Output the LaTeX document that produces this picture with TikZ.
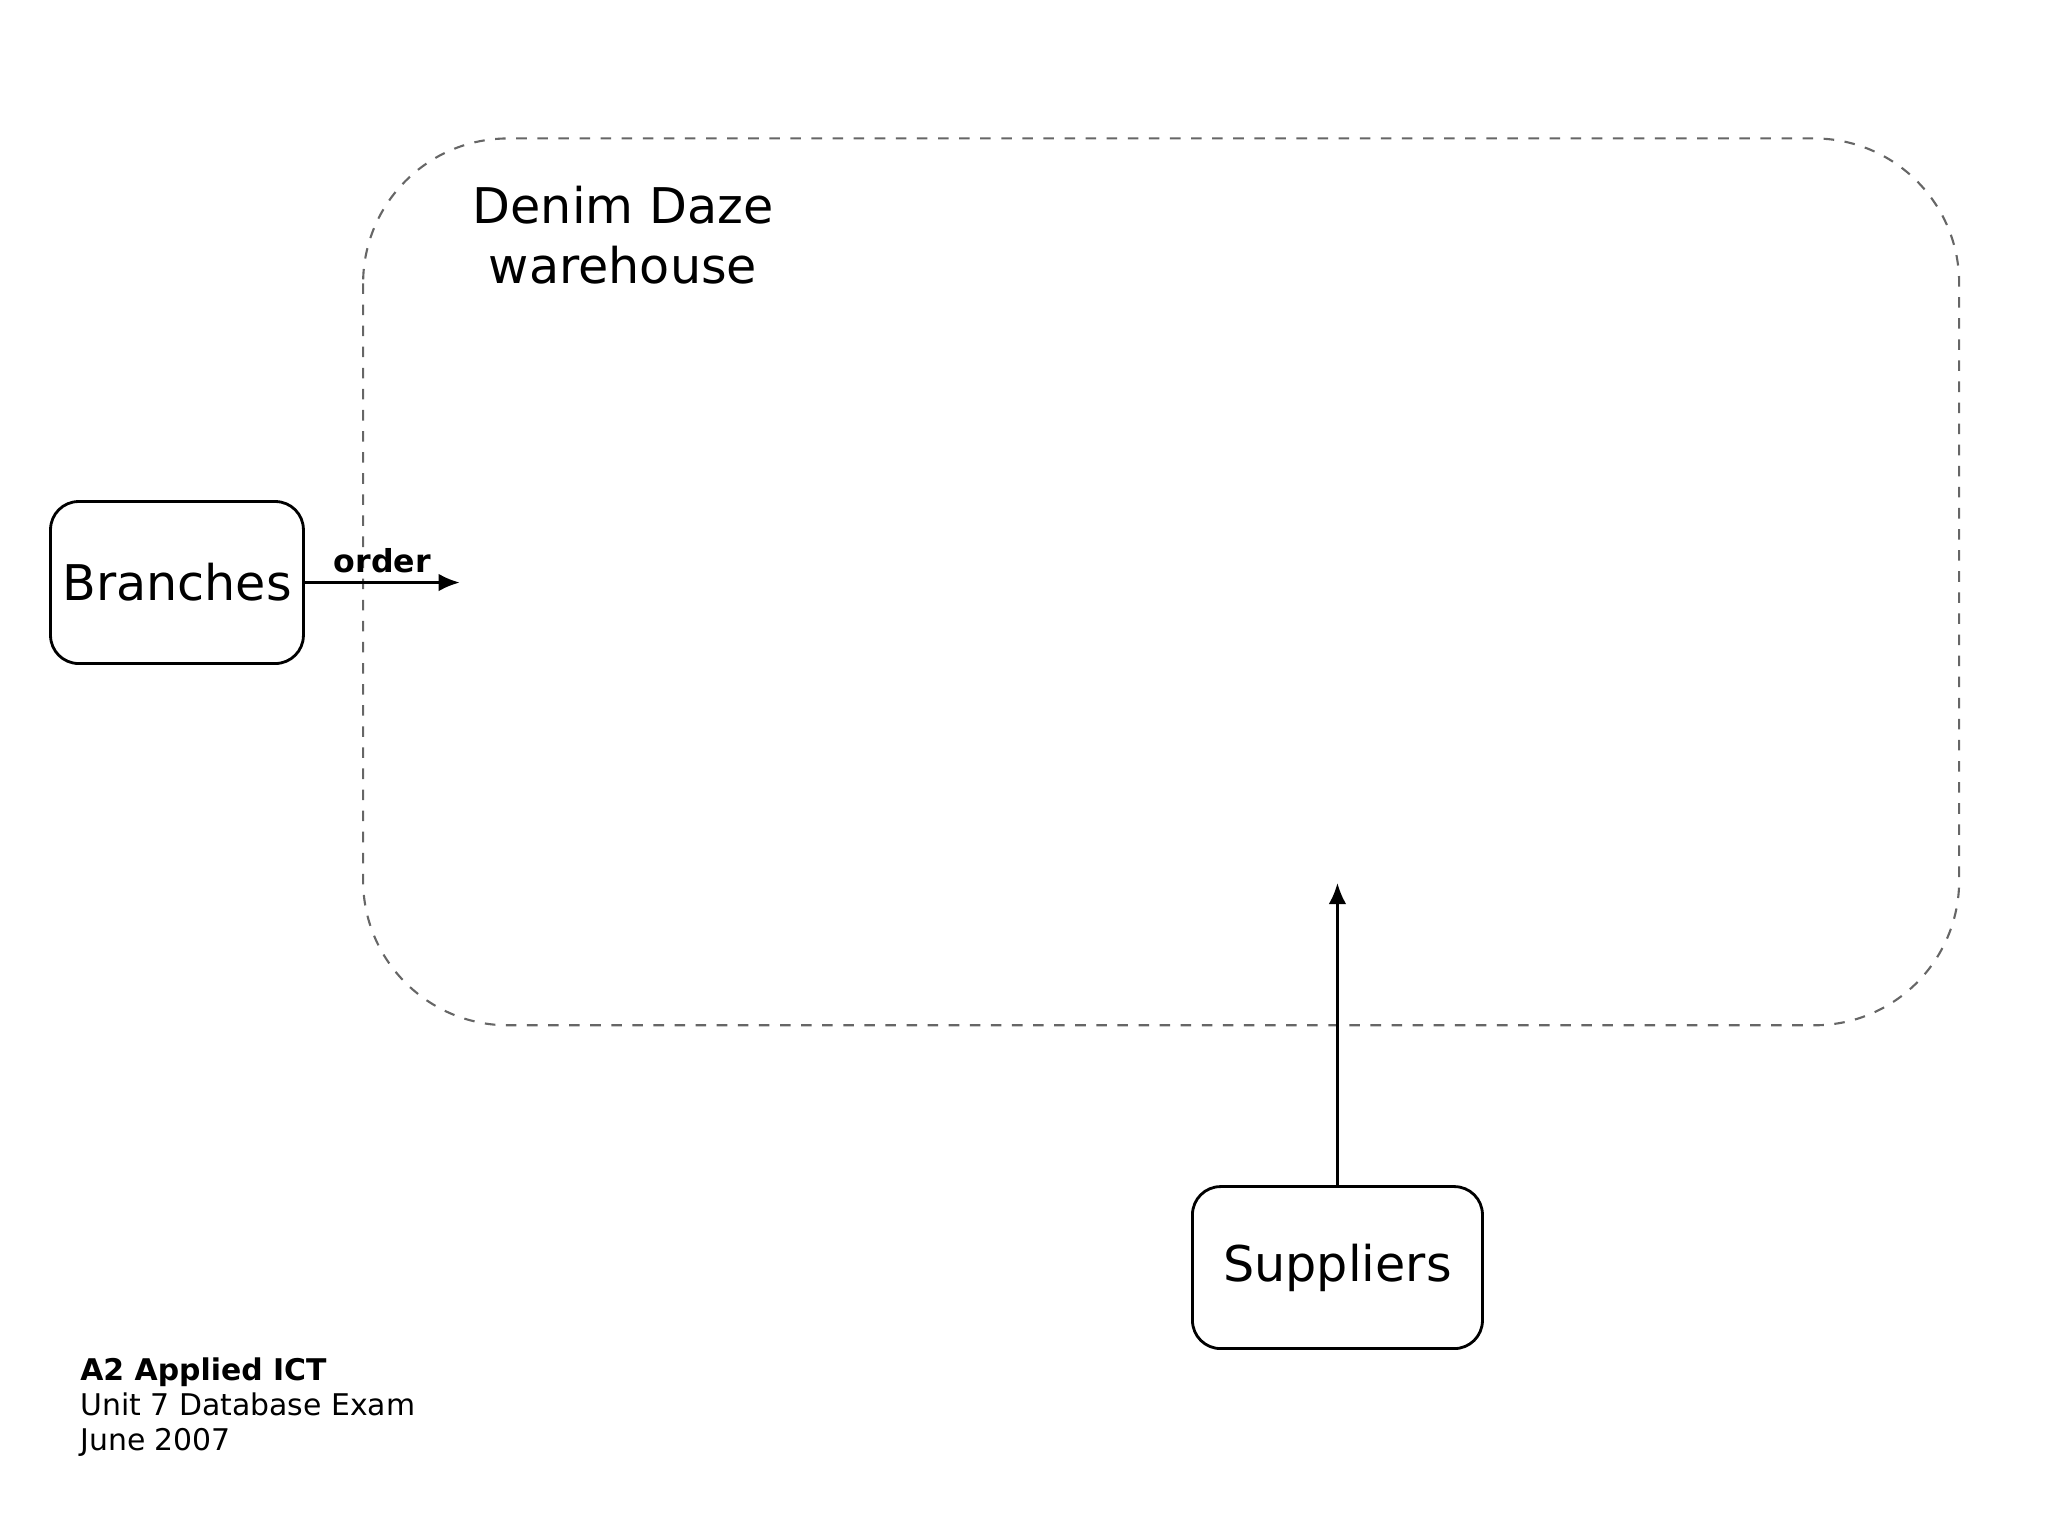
\documentclass[tikz,border=0pt]{standalone}
\usepackage{fontspec}
\setmainfont{DejaVu Sans}
\usetikzlibrary{positioning}
\usetikzlibrary{arrows.meta}
\tikzset{
    entity/.style = {rectangle,draw,rounded corners=8pt,line width=0.8pt,minimum width=2.42cm,minimum height=1.62cm,font=\fontsize{14}{17}\selectfont},
    boundary/.style = {draw=black!60,dashed,line width=0.6pt,rounded corners=1.45cm},
    flow/.style = {-{Latex[length=6pt,width=5pt]},line width=0.8pt}}
\begin{document}
\begin{tikzpicture}[x=0.01306cm,y=-0.01306cm]
    \useasboundingbox (0,0) rectangle (1568,1176);
    \draw[boundary] (278,106) rectangle (1500,785);
    \node[align=center,font=\fontsize{14}{17}\selectfont] (title) at (477,180) {Denim Daze\\warehouse};
    \node[entity] (branches) at (135.5,446) {Branches};
    \node[entity,minimum width=2.9cm] (suppliers) at (1024,970.5) {Suppliers};
    \coordinate (orderend) at (352,446);
    \coordinate (supplyend) at (1024,676);
    \draw[flow] (branches) -- node[above=-1pt,font=\bfseries\fontsize{9}{11}\selectfont] (order) {order} (orderend);
    \draw[flow] (suppliers) -- (supplyend);
    \node[anchor=north west,align=left,font=\fontsize{8.5}{10}\selectfont,inner sep=0pt] (footer) at (61,1039) {\textbf{A2 Applied ICT}\\Unit 7 Database Exam\\June 2007};
\end{tikzpicture}
\end{document}
